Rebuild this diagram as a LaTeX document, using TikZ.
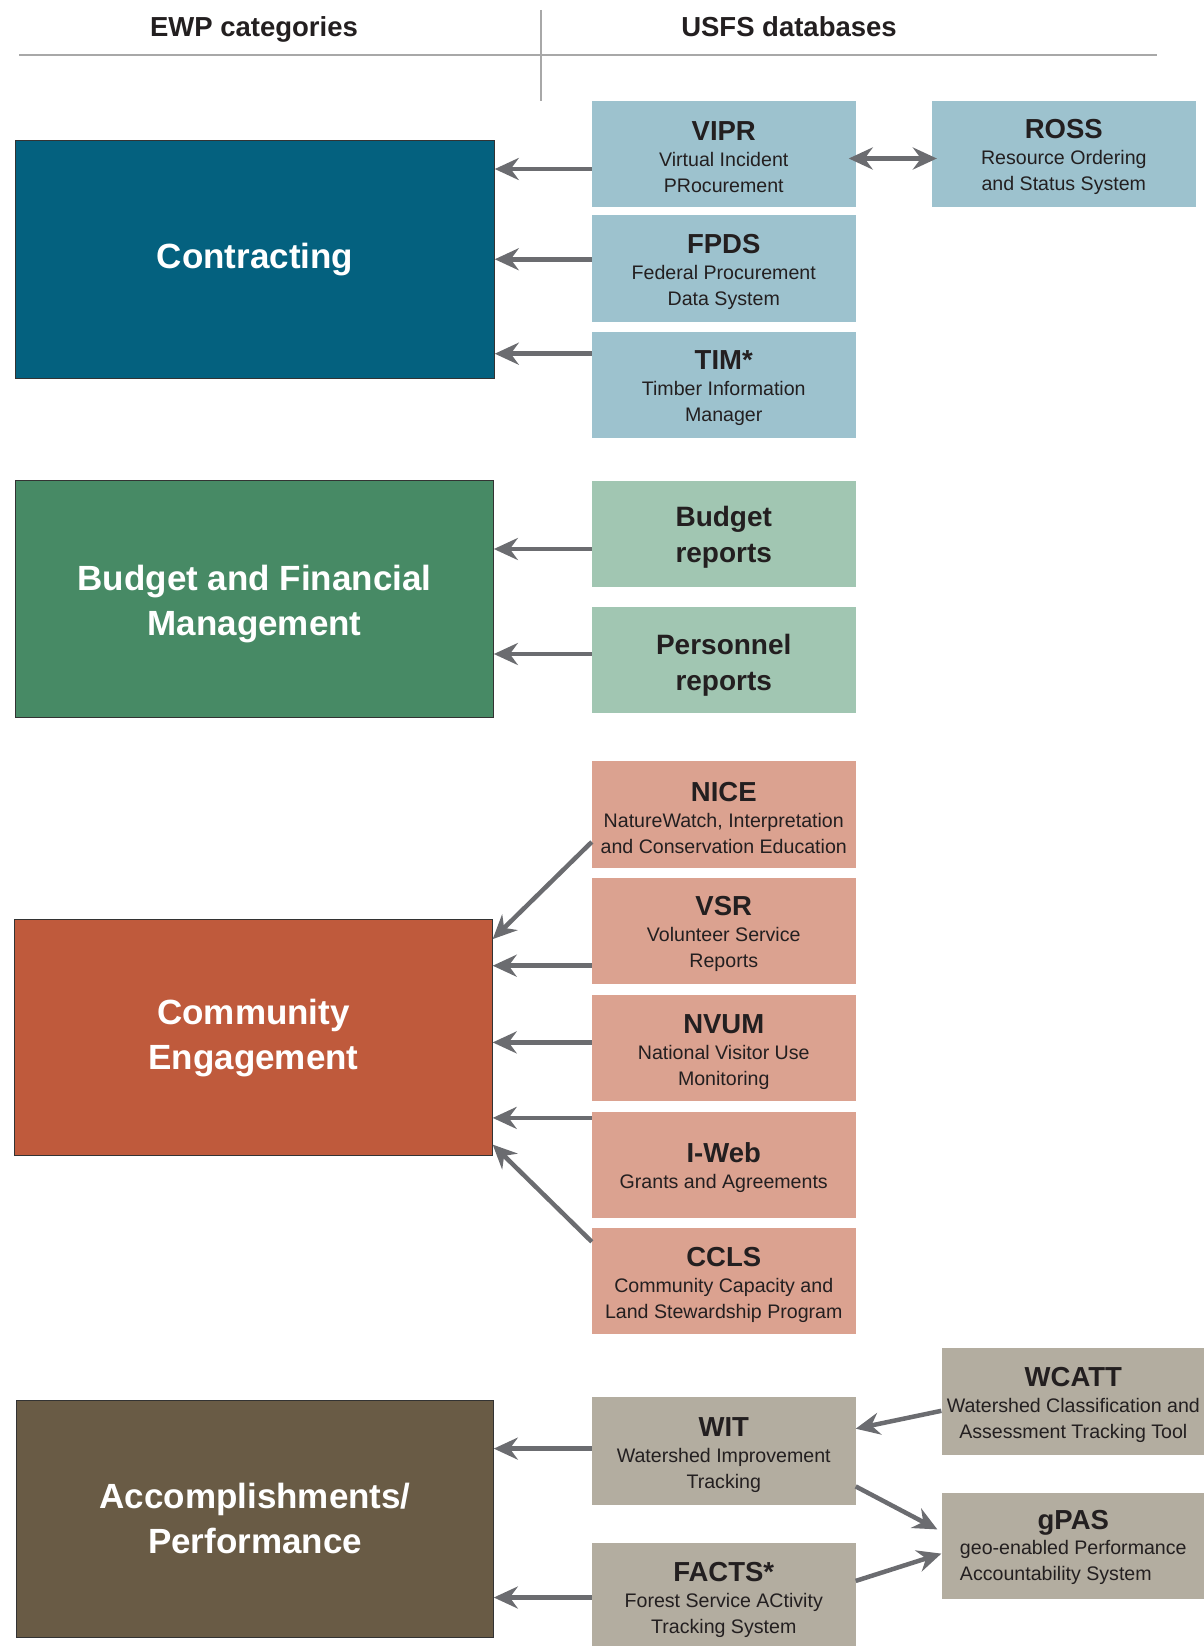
\documentclass[tikz,border=0pt]{standalone}
\usepackage{fontspec}
\setmainfont{Liberation Sans}
\usetikzlibrary{arrows.meta}
\definecolor{contrC}{HTML}{04617F}
\definecolor{budgetC}{HTML}{478A65}
\definecolor{commC}{HTML}{BF5A3C}
\definecolor{accC}{HTML}{695B45}
\definecolor{contrL}{HTML}{9DC2CE}
\definecolor{budgetL}{HTML}{A1C6B2}
\definecolor{commL}{HTML}{DBA290}
\definecolor{accL}{HTML}{B3ADA0}
\definecolor{arrowgray}{HTML}{6B6C70}
\definecolor{rulegray}{HTML}{A8A8A8}
\definecolor{ink}{HTML}{231F20}
% database title line, with a strut that sets the block a little lower
\newcommand{\dbtitle}[1]{{\fontsize{27.5}{26}\selectfont\bfseries\rule{0pt}{26pt}#1}}
\newcommand{\bigstrut}{\rule{0pt}{28pt}}
\begin{document}
\begin{tikzpicture}[x=1pt,y=-1pt,
  catbox/.style={draw=black!80, line width=0.8pt, text=white, align=center,
    inner sep=0pt, font=\fontsize{35}{45}\selectfont\bfseries},
  dbbox/.style={inner sep=0pt, align=center, text=ink,
    font=\fontsize{19.6}{26}\selectfont, minimum width=263.5pt, minimum height=106pt},
  bigdb/.style={dbbox, font=\fontsize{28}{36}\selectfont\bfseries},
  arr/.style={draw=arrowgray, line width=4.5pt,
    -{Stealth[length=24pt,width=22pt,inset=8pt]}},
  darr/.style={draw=arrowgray, line width=4.5pt,
    {Stealth[length=24pt,width=22pt,inset=8pt]}-{Stealth[length=24pt,width=22pt,inset=8pt]}},
  head/.style={font=\fontsize{27.5}{30}\selectfont\bfseries, text=ink, inner sep=0pt, anchor=base}
]
\useasboundingbox (0,0) rectangle (1203,1646);

% column headings
\node[head] (hcat) at (254,37) {EWP categories};
\node[head] (hdb) at (789,37) {USFS databases};
\draw[rulegray, line width=2.5pt] (19,55) -- (1157,55);
\draw[rulegray, line width=2pt] (541,10) -- (541,101);

% EWP categories
\node[catbox, fill=contrC, minimum width=478.7pt, minimum height=237.2pt] (contr) at (255,259.3) {Contracting};
\node[catbox, fill=budgetC, minimum width=477.7pt, minimum height=236.2pt] (budget) at (254.6,598.9) {\rule{0pt}{35pt}Budget and Financial\\Management};
\node[catbox, fill=commC, minimum width=477.6pt, minimum height=236.2pt] (comm) at (253.5,1037.6) {Community\\Engagement};
\node[catbox, fill=accC, minimum width=476.6pt, minimum height=237.2pt] (acc) at (255.1,1518.9) {Accomplishments/\\Performance};

% contracting databases
\node[dbbox, fill=contrL] (vipr) at (723.75,153.8) {\dbtitle{VIPR}\\Virtual Incident\\PRocurement};
\node[dbbox, fill=contrL] (ross) at (1063.8,153.8) {\dbtitle{ROSS}\\Resource Ordering\\and Status System};
\node[dbbox, fill=contrL, minimum height=107pt] (fpds) at (723.75,268.75) {\dbtitle{FPDS}\\Federal Procurement\\Data System};
\node[dbbox, fill=contrL] (tim) at (723.75,384.7) {\dbtitle{TIM*}\\Timber Information\\Manager};

% budget databases
\node[bigdb, fill=budgetL] (breports) at (723.75,533.8) {\bigstrut Budget\\reports};
\node[bigdb, fill=budgetL] (preports) at (723.75,659.7) {\rule{0pt}{31pt}Personnel\\reports};

% community databases
\node[dbbox, fill=commL, minimum height=107pt] (nice) at (723.75,814.5) {\dbtitle{NICE}\\NatureWatch, Interpretation\\and Conservation Education};
\node[dbbox, fill=commL] (vsr) at (723.75,930.5) {\dbtitle{VSR}\\Volunteer Service\\Reports};
\node[dbbox, fill=commL] (nvum) at (723.75,1048.1) {\dbtitle{NVUM}\\National Visitor Use\\Monitoring};
\node[dbbox, fill=commL] (iweb) at (723.75,1164.6) {\dbtitle{I-Web}\\Grants and Agreements};
\node[dbbox, fill=commL] (ccls) at (723.75,1281.2) {\dbtitle{CCLS}\\Community Capacity and\\Land Stewardship Program};

% accomplishment databases
\node[dbbox, fill=accL, minimum height=108pt] (wit) at (723.75,1451.2) {\dbtitle{WIT}\\Watershed Improvement\\Tracking};
\node[dbbox, fill=accL, minimum height=108pt] (facts) at (723.75,1597) {\dbtitle{FACTS*}\\Forest Service ACtivity\\Tracking System};
\node[dbbox, fill=accL, minimum height=107pt] (wcatt) at (1073.3,1401.4) {\dbtitle{WCATT}\\Watershed Classification and\\Assessment Tracking Tool};
\node[dbbox, fill=accL] (gpas) at (1073.3,1545.7) {\dbtitle{gPAS}\\\begin{tabular}{@{}l@{}}geo-enabled Performance\\Accountability System\end{tabular}};

% connector end points
\coordinate (viprOut) at ([yshift=-15.2pt]vipr.west);
\coordinate (fpdsOut) at ([yshift=9.5pt]fpds.west);
\coordinate (timOut) at ([yshift=31pt]tim.west);
\coordinate (brOut) at ([yshift=-15.2pt]breports.west);
\coordinate (prOut) at ([yshift=5.7pt]preports.west);
\coordinate (niceOut) at ([yshift=-27.4pt]nice.west);
\coordinate (vsrOut) at ([yshift=-35.2pt]vsr.west);
\coordinate (nvumOut) at ([yshift=5.7pt]nvum.west);
\coordinate (iwebOut) at ([yshift=46.7pt]iweb.west);
\coordinate (cclsOut) at ([yshift=39.4pt]ccls.west);
\coordinate (witOut) at ([yshift=2.6pt]wit.west);
\coordinate (factsOut) at ([yshift=-0.5pt]facts.west);
\coordinate (commTop) at ([yshift=-20pt]comm.north east);
\coordinate (commBot) at ([yshift=11.5pt]comm.south east);

% arrows into the categories
\draw[arr] (viprOut) -- (viprOut -| contr.east);
\draw[arr] (fpdsOut) -- (fpdsOut -| contr.east);
\draw[arr] (timOut) -- (timOut -| contr.east);
\draw[arr] (brOut) -- (brOut -| budget.east);
\draw[arr] (prOut) -- (prOut -| budget.east);
\draw[arr] (niceOut) -- (commTop);
\draw[arr] (vsrOut) -- (vsrOut -| comm.east);
\draw[arr] (nvumOut) -- (nvumOut -| comm.east);
\draw[arr] (iwebOut) -- (iwebOut -| comm.east);
\draw[arr] (cclsOut) -- (commBot);
\draw[arr] (witOut) -- (witOut -| acc.east);
\draw[arr] (factsOut) -- (factsOut -| acc.east);

% links between databases
\draw[darr] ([xshift=-7pt,yshift=-4.7pt]vipr.east) -- ([xshift=5pt,yshift=-4.7pt]ross.west);
\draw[arr] ([yshift=-9.4pt]wcatt.west) -- ([yshift=22.5pt]wit.east);
\draw[arr] ([yshift=-35.2pt]wit.east) -- ([xshift=-4pt,yshift=16.3pt]gpas.west);
\draw[arr] ([yshift=16.1pt]facts.east) -- ([yshift=-7.9pt]gpas.west);
\end{tikzpicture}
\end{document}
